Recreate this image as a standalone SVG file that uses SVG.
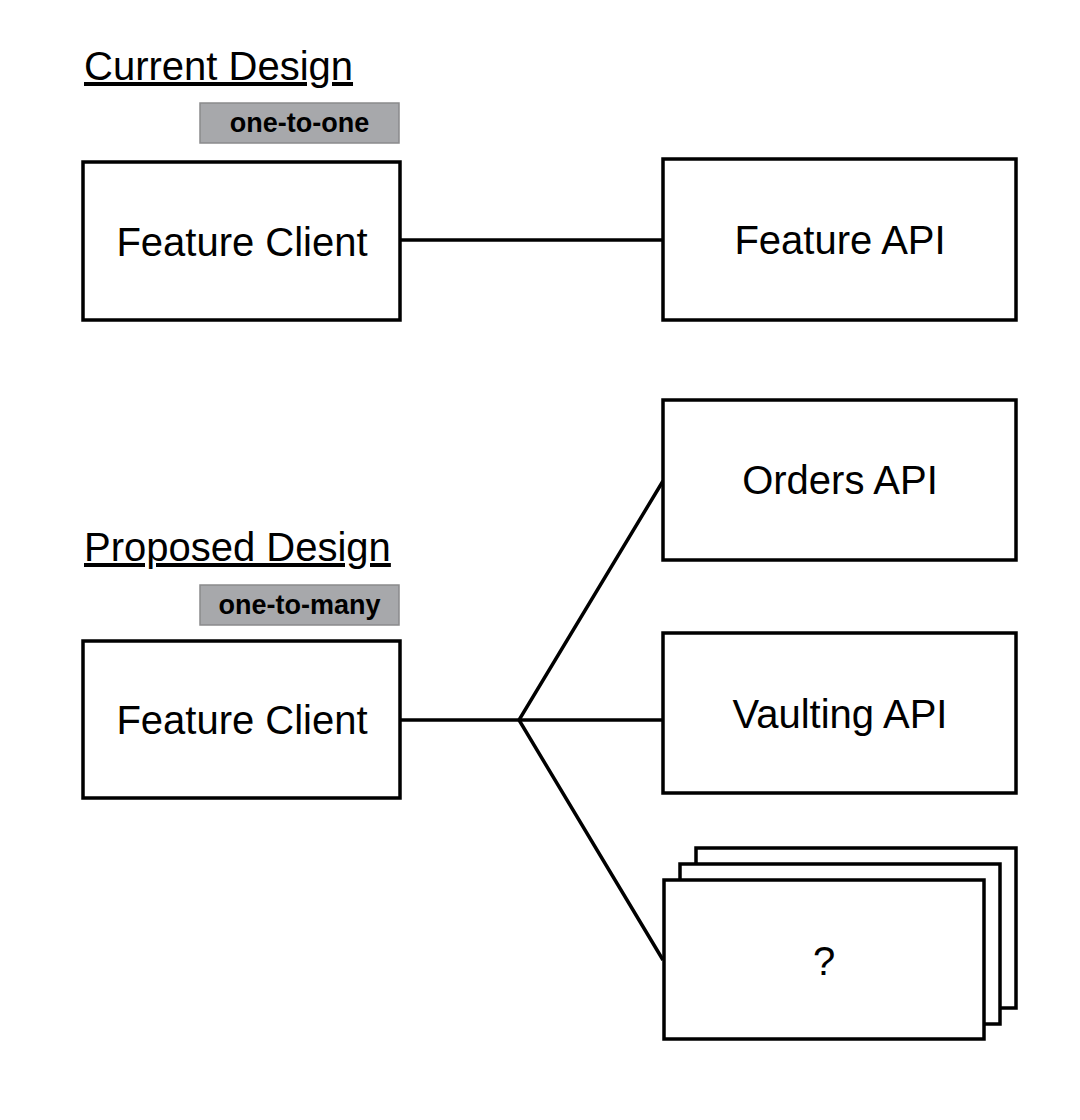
<svg xmlns="http://www.w3.org/2000/svg" width="1080" height="1120" viewBox="0 0 1080 1120">
<style>
.box{fill:#fff;stroke:#000;stroke-width:3.5}
.lbl{fill:#a7a8ab;stroke:#8a8a8c;stroke-width:1.5}
.t{font-family:"Liberation Sans",Arial,sans-serif;font-size:40px;fill:#000;text-anchor:middle}
.h{font-family:"Liberation Sans",Arial,sans-serif;font-size:40px;fill:#000;text-decoration:underline}
.b{font-family:"Liberation Sans",Arial,sans-serif;font-size:27px;font-weight:bold;fill:#000;text-anchor:middle}
.c{fill:none;stroke:#000;stroke-width:3.5}
</style>
<rect width="1080" height="1120" fill="#fff"/>
<text class="h" x="84" y="80">Current Design</text>
<text class="h" x="84" y="561">Proposed Design</text>
<g id="connectors">
<line class="c" x1="400" y1="240" x2="663" y2="240"/>
<line class="c" x1="400" y1="720" x2="663" y2="720"/>
<polyline class="c" points="663,481 519,720 663,960"/>
</g>
<g id="label-one-to-one">
<rect class="lbl" x="200" y="103" width="199" height="40"/>
<text class="b" x="299.5" y="132">one-to-one</text>
</g>
<g id="label-one-to-many">
<rect class="lbl" x="200" y="585" width="199" height="40"/>
<text class="b" x="299.5" y="614">one-to-many</text>
</g>
<g id="feature-client-1">
<rect class="box" x="83" y="162" width="317" height="158"/>
<text class="t" x="242" y="256">Feature Client</text>
</g>
<g id="feature-api">
<rect class="box" x="663" y="159" width="353" height="161"/>
<text class="t" x="840" y="254">Feature API</text>
</g>
<g id="feature-client-2">
<rect class="box" x="83" y="641" width="317" height="157"/>
<text class="t" x="242" y="734">Feature Client</text>
</g>
<g id="orders-api">
<rect class="box" x="663" y="400" width="353" height="160"/>
<text class="t" x="840" y="494">Orders API</text>
</g>
<g id="vaulting-api">
<rect class="box" x="663" y="633" width="353" height="160"/>
<text class="t" x="840" y="728">Vaulting API</text>
</g>
<g id="unknown-apis">
<rect class="box" x="696" y="848" width="320" height="160"/>
<rect class="box" x="680" y="864" width="320" height="160"/>
<rect class="box" x="664" y="880" width="320" height="159"/>
<text class="t" x="824" y="975">?</text>
</g>
</svg>
